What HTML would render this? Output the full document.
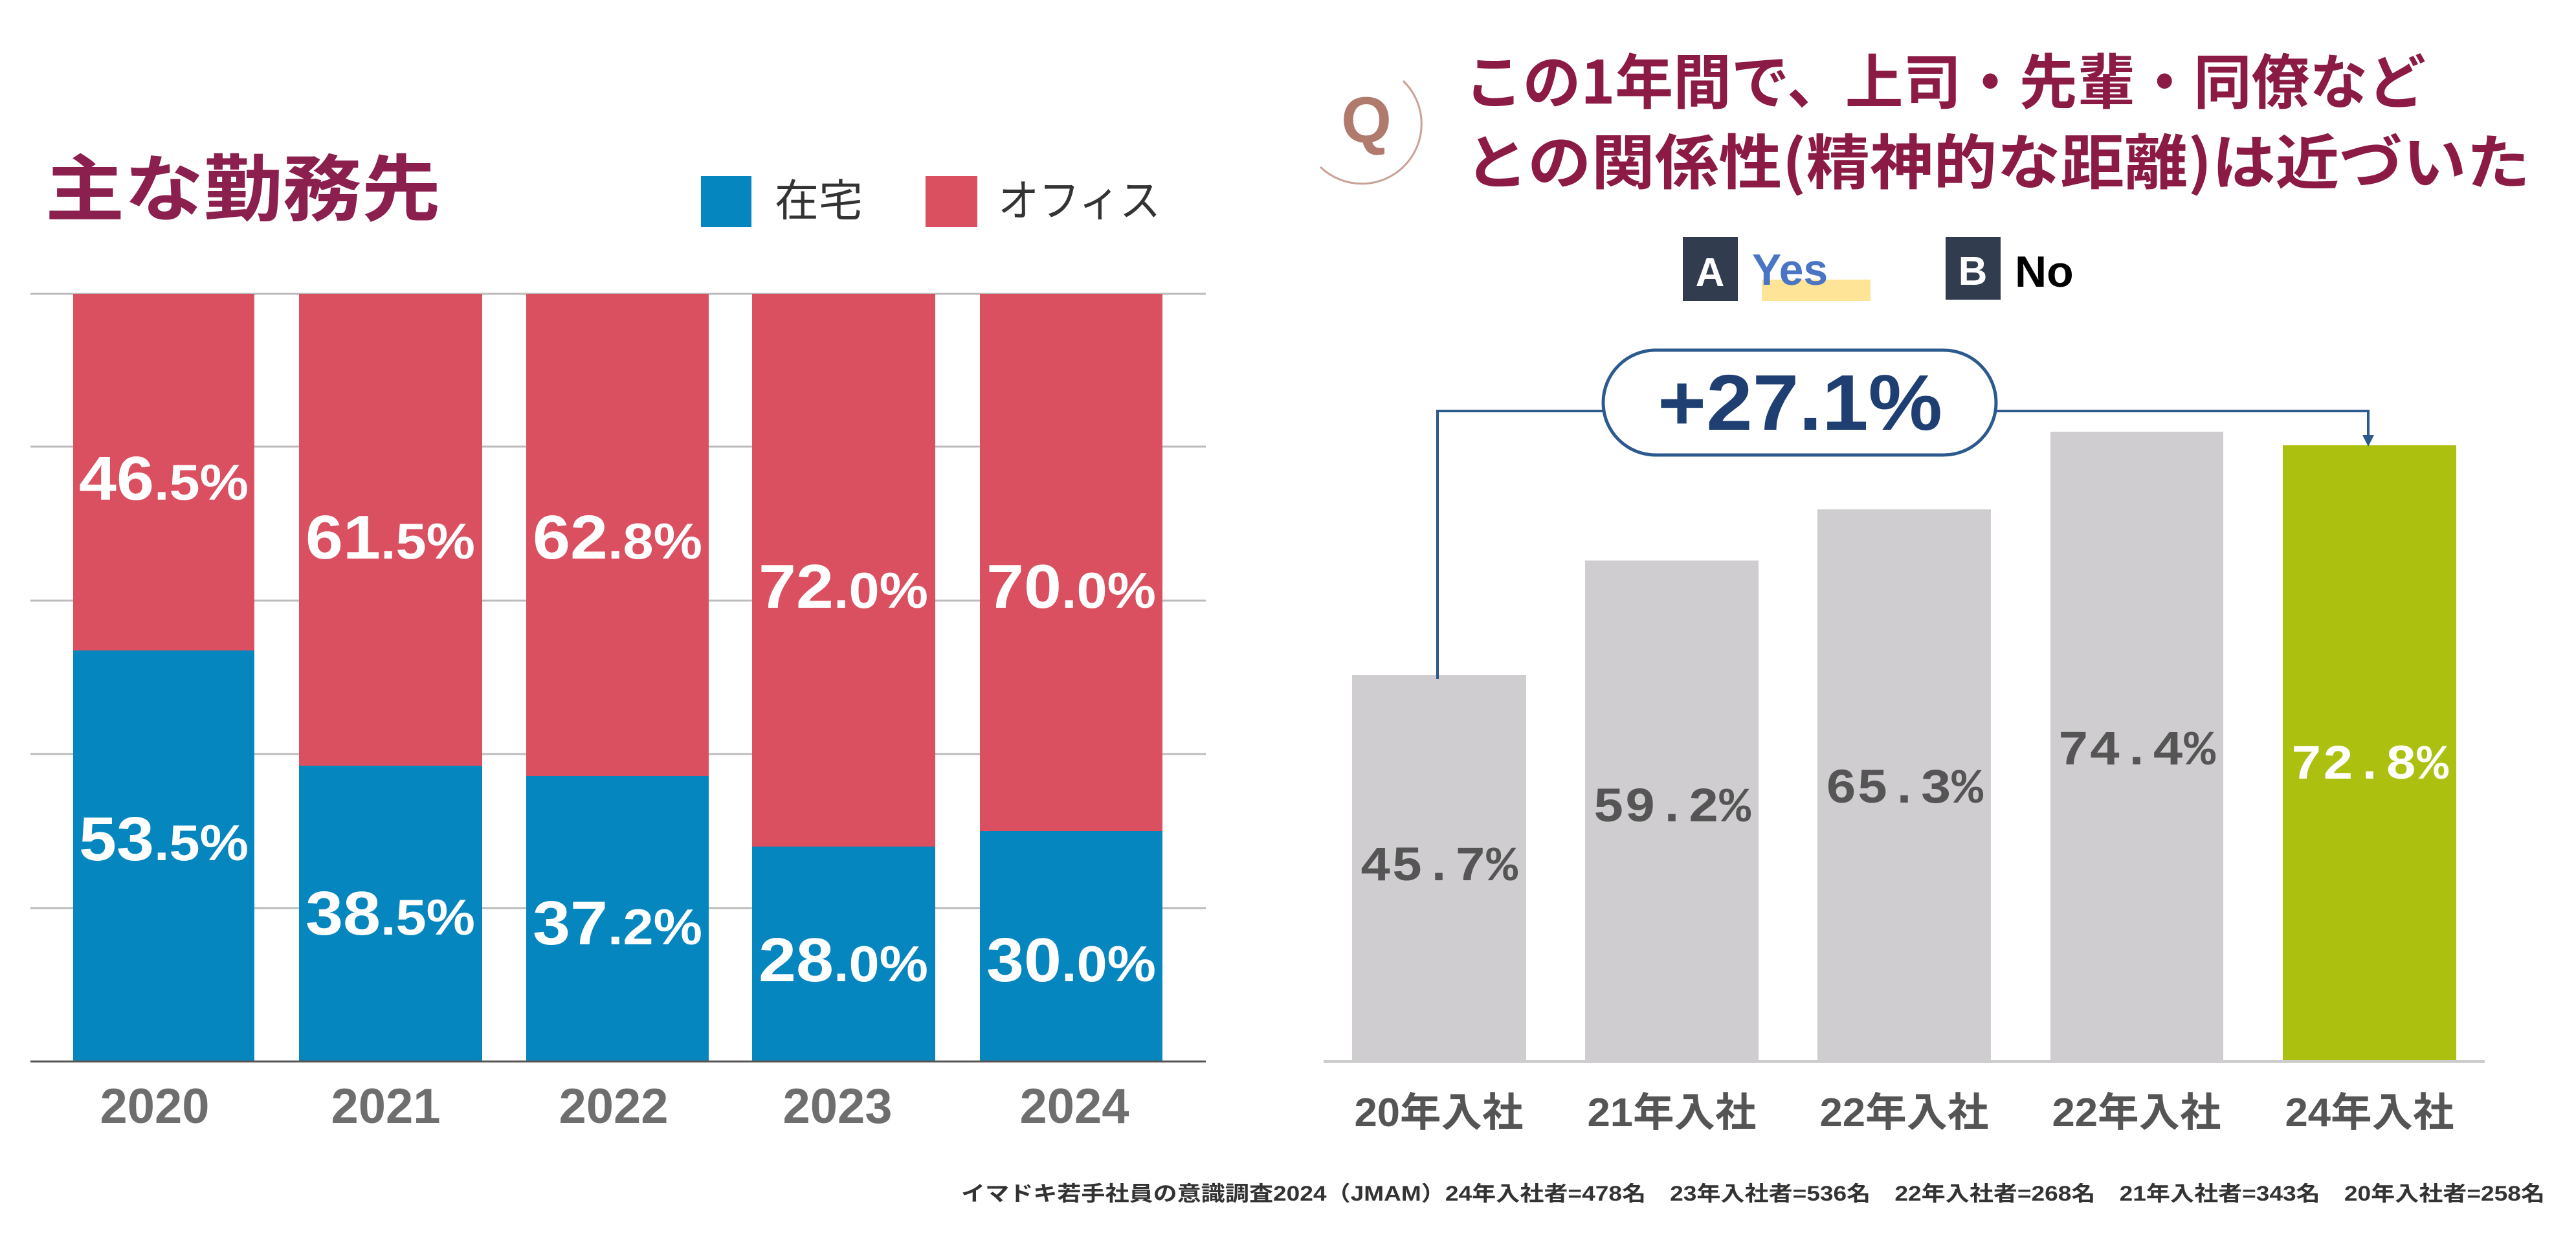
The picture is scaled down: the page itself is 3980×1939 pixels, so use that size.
<!DOCTYPE html>
<html><head><meta charset="utf-8"><style>
html,body{margin:0;padding:0;background:#fff;}
svg{display:block;}
text{font-family:"Liberation Sans","Noto Sans CJK JP",sans-serif;}
</style></head><body>
<svg width="3980" height="1939" viewBox="0 0 3980 1939" xmlns="http://www.w3.org/2000/svg">
<!-- LEFT CHART -->
<text x="70" y="332" font-size="112" font-weight="bold" fill="#8b1f4e" textLength="611" lengthAdjust="spacingAndGlyphs" style="font-family:'Noto Sans CJK JP',sans-serif">主な勤務先</text>
<rect x="1083" y="272" width="78" height="79" fill="#0686bf"/>
<text x="1197" y="334" font-size="68" fill="#333" style="font-family:'Noto Sans CJK JP',sans-serif">在宅</text>
<rect x="1430" y="272" width="80" height="79" fill="#da5060"/>
<text x="1542" y="334" font-size="68" fill="#333" textLength="251" lengthAdjust="spacingAndGlyphs" style="font-family:'Noto Sans CJK JP',sans-serif">オフィス</text>
<g stroke="#bbb" stroke-width="3">
<line x1="47" y1="454" x2="1863" y2="454"/>
<line x1="47" y1="690" x2="1863" y2="690"/>
<line x1="47" y1="928" x2="1863" y2="928"/>
<line x1="47" y1="1165" x2="1863" y2="1165"/>
<line x1="47" y1="1403" x2="1863" y2="1403"/>
</g>
<g fill="#da5060">
<rect x="113" y="454" width="280" height="1186"/>
<rect x="462" y="454" width="283" height="1186"/>
<rect x="813" y="454" width="282" height="1186"/>
<rect x="1162" y="454" width="283" height="1186"/>
<rect x="1514" y="454" width="282" height="1186"/>
</g>
<g fill="#0686bf">
<rect x="113" y="1005" width="280" height="635"/>
<rect x="462" y="1183" width="283" height="457"/>
<rect x="813" y="1199" width="282" height="441"/>
<rect x="1162" y="1308" width="283" height="332"/>
<rect x="1514" y="1284" width="282" height="356"/>
</g>
<line x1="47" y1="1640" x2="1863" y2="1640" stroke="#555" stroke-width="3"/>
<g fill="#fff" font-weight="bold" font-size="96" text-anchor="middle">
<text x="253" y="772" textLength="262" lengthAdjust="spacingAndGlyphs">46<tspan font-size="78">.5%</tspan></text>
<text x="253" y="1329" textLength="262" lengthAdjust="spacingAndGlyphs">53<tspan font-size="78">.5%</tspan></text>
<text x="603" y="863" textLength="262" lengthAdjust="spacingAndGlyphs">61<tspan font-size="78">.5%</tspan></text>
<text x="603" y="1444" textLength="262" lengthAdjust="spacingAndGlyphs">38<tspan font-size="78">.5%</tspan></text>
<text x="954" y="863" textLength="262" lengthAdjust="spacingAndGlyphs">62<tspan font-size="78">.8%</tspan></text>
<text x="954" y="1459" textLength="262" lengthAdjust="spacingAndGlyphs">37<tspan font-size="78">.2%</tspan></text>
<text x="1303" y="939" textLength="262" lengthAdjust="spacingAndGlyphs">72<tspan font-size="78">.0%</tspan></text>
<text x="1303" y="1516" textLength="262" lengthAdjust="spacingAndGlyphs">28<tspan font-size="78">.0%</tspan></text>
<text x="1655" y="939" textLength="262" lengthAdjust="spacingAndGlyphs">70<tspan font-size="78">.0%</tspan></text>
<text x="1655" y="1516" textLength="262" lengthAdjust="spacingAndGlyphs">30<tspan font-size="78">.0%</tspan></text>
</g>
<g fill="#6e6e6e" font-size="76" font-weight="bold" text-anchor="middle">
<text x="239" y="1735">2020</text>
<text x="596" y="1735">2021</text>
<text x="948" y="1735">2022</text>
<text x="1294" y="1735">2023</text>
<text x="1660" y="1735">2024</text>
</g>
<!-- RIGHT CHART -->
<path d="M2168,125 A82,82 0 1 1 2040,258" fill="none" stroke="#c9a195" stroke-width="3"/>
<text x="2111" y="220" font-size="100" font-weight="bold" fill="#b07a6d" text-anchor="middle">Q</text>
<g fill="#8b1a44" font-weight="bold" font-size="92" style="font-family:'Noto Sans CJK JP',sans-serif">
<text x="2263" y="160" textLength="1485" lengthAdjust="spacingAndGlyphs" style="font-family:'Noto Sans CJK JP',sans-serif">この1年間で、上司・先輩・同僚など</text>
<text x="2263" y="284" textLength="1646" lengthAdjust="spacingAndGlyphs" style="font-family:'Noto Sans CJK JP',sans-serif">との関係性(精神的な距離)は近づいた</text>
</g>
<rect x="2600" y="366" width="85" height="99" fill="#323c4f"/>
<text x="2642" y="442" font-size="62" font-weight="bold" fill="#fff" text-anchor="middle">A</text>
<rect x="2722" y="432" width="168" height="33" fill="#fde496"/>
<text x="2707" y="440" font-size="68" font-weight="bold" fill="#4a74c4">Yes</text>
<rect x="3006" y="366" width="85" height="97" fill="#323c4f"/>
<text x="3048" y="440" font-size="62" font-weight="bold" fill="#fff" text-anchor="middle">B</text>
<text x="3113" y="443" font-size="68" font-weight="bold" fill="#000">No</text>
<g fill="#cfcdcf">
<rect x="2089" y="1043" width="269" height="597"/>
<rect x="2449" y="866" width="268" height="774"/>
<rect x="2808" y="787" width="268" height="853"/>
<rect x="3168" y="667" width="267" height="973"/>
</g>
<rect x="3527" y="688" width="268" height="952" fill="#acc00f"/>
<line x1="2045" y1="1640" x2="3839" y2="1640" stroke="#ccc" stroke-width="4"/>
<path d="M2221,1049 V635 H2477 M3084,635 H3659 V680" fill="none" stroke="#2c5a8f" stroke-width="4"/>
<path d="M3650,672 L3668,672 L3659,690 Z" fill="#2c5a8f"/>
<rect x="2477" y="541" width="607" height="162" rx="81" fill="#fff" stroke="#2c5a8f" stroke-width="5"/>
<text x="2781" y="664" font-size="122" font-weight="bold" fill="#1f3f73" text-anchor="middle" textLength="440" lengthAdjust="spacingAndGlyphs">+27.1%</text>
<g font-size="76" font-weight="bold" fill="#555" text-anchor="middle" style="font-family:'Liberation Mono',monospace">
<text x="2223" y="1360" textLength="244" lengthAdjust="spacingAndGlyphs" style="font-family:'Liberation Mono',monospace">45.7%</text>
<text x="2583" y="1269" textLength="244" lengthAdjust="spacingAndGlyphs" style="font-family:'Liberation Mono',monospace">59.2%</text>
<text x="2942" y="1240" textLength="244" lengthAdjust="spacingAndGlyphs" style="font-family:'Liberation Mono',monospace">65.3%</text>
<text x="3301" y="1181" textLength="244" lengthAdjust="spacingAndGlyphs" style="font-family:'Liberation Mono',monospace">74.4%</text>
<text x="3661" y="1203" fill="#fff" textLength="244" lengthAdjust="spacingAndGlyphs" style="font-family:'Liberation Mono',monospace">72.8%</text>
</g>
<g font-size="62" font-weight="bold" fill="#555" text-anchor="middle">
<text x="2223" y="1740" textLength="261" lengthAdjust="spacingAndGlyphs">20年入社</text>
<text x="2583" y="1740" textLength="261" lengthAdjust="spacingAndGlyphs">21年入社</text>
<text x="2942" y="1740" textLength="261" lengthAdjust="spacingAndGlyphs">22年入社</text>
<text x="3301" y="1740" textLength="261" lengthAdjust="spacingAndGlyphs">22年入社</text>
<text x="3661" y="1740" textLength="261" lengthAdjust="spacingAndGlyphs">24年入社</text>
</g>
<text x="1485" y="1855" font-size="32" font-weight="bold" fill="#333" textLength="2447" lengthAdjust="spacingAndGlyphs">イマドキ若手社員の意識調査2024（JMAM）24年入社者=478名　23年入社者=536名　22年入社者=268名　21年入社者=343名　20年入社者=258名</text>
</svg>
</body></html>
